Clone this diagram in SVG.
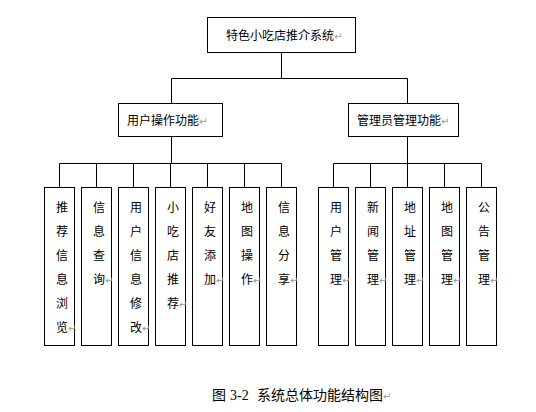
<svg xmlns="http://www.w3.org/2000/svg" width="536" height="412" viewBox="0 0 536 412">
<style>
.box{fill:#fff;stroke:#000;stroke-width:1}
.ln{fill:none;stroke:#000;stroke-width:1}
.t{font-family:"Noto Sans CJK SC","Noto Sans CJK JP",sans-serif;font-size:12px;fill:#000}
.r{font-family:"DejaVu Sans",sans-serif;font-size:10px;fill:#999}
.cap{font-family:"Noto Sans CJK SC",sans-serif;font-size:14px;fill:#000}
.num{font-family:"Liberation Serif",serif;font-size:14px;fill:#000}
</style>
<rect width="536" height="412" fill="#fff"/>
<g id="connectors">
<path class="ln" d="M281.5 53V78.5M171.5 78.5H407.5M171.5 78.5V103M407.5 78.5V103"/>
<path class="ln" d="M171.5 137V163.5M59.5 163.5H281.5M59.5 163.5V187M96.5 163.5V187M133.5 163.5V187M170.5 163.5V187M207.5 163.5V187M244.5 163.5V187M281.5 163.5V187"/>
<path class="ln" d="M407.5 137V163.5M333.5 163.5H481.5M333.5 163.5V187M370.5 163.5V187M407.5 163.5V187M444.5 163.5V187M481.5 163.5V187"/>
</g>
<g id="root">
<rect class="box" x="207.5" y="17.5" width="148" height="35"/>
<text class="t" x="226" y="39.5">特色小吃店推介系统<tspan class="r">↵</tspan></text>
</g>
<g id="user">
<rect class="box" x="118.5" y="103.5" width="104" height="33"/>
<text class="t" x="127" y="124.5">用户操作功能<tspan class="r">↵</tspan></text>
</g>
<g id="admin">
<rect class="box" x="348.5" y="103.5" width="110" height="33"/>
<text class="t" x="357" y="124.5">管理员管理功能<tspan class="r">↵</tspan></text>
</g>
<g id="n1">
<rect class="box" x="44.5" y="187.5" width="30" height="158"/>
<text class="t"><tspan x="56" y="212">推</tspan><tspan x="56" y="236">荐</tspan><tspan x="56" y="260">信</tspan><tspan x="56" y="284">息</tspan><tspan x="56" y="308">浏</tspan><tspan x="56" y="332">览</tspan><tspan class="r">↵</tspan></text>
</g>
<g id="n2">
<rect class="box" x="81.5" y="187.5" width="30" height="158"/>
<text class="t"><tspan x="93" y="212">信</tspan><tspan x="93" y="236">息</tspan><tspan x="93" y="260">查</tspan><tspan x="93" y="284">询</tspan><tspan class="r">↵</tspan></text>
</g>
<g id="n3">
<rect class="box" x="118.5" y="187.5" width="30" height="158"/>
<text class="t"><tspan x="130" y="212">用</tspan><tspan x="130" y="236">户</tspan><tspan x="130" y="260">信</tspan><tspan x="130" y="284">息</tspan><tspan x="130" y="308">修</tspan><tspan x="130" y="332">改</tspan><tspan class="r">↵</tspan></text>
</g>
<g id="n4">
<rect class="box" x="155.5" y="187.5" width="30" height="158"/>
<text class="t"><tspan x="167" y="212">小</tspan><tspan x="167" y="236">吃</tspan><tspan x="167" y="260">店</tspan><tspan x="167" y="284">推</tspan><tspan x="167" y="308">荐</tspan><tspan class="r">↵</tspan></text>
</g>
<g id="n5">
<rect class="box" x="192.5" y="187.5" width="30" height="158"/>
<text class="t"><tspan x="204" y="212">好</tspan><tspan x="204" y="236">友</tspan><tspan x="204" y="260">添</tspan><tspan x="204" y="284">加</tspan><tspan class="r">↵</tspan></text>
</g>
<g id="n6">
<rect class="box" x="229.5" y="187.5" width="30" height="158"/>
<text class="t"><tspan x="241" y="212">地</tspan><tspan x="241" y="236">图</tspan><tspan x="241" y="260">操</tspan><tspan x="241" y="284">作</tspan><tspan class="r">↵</tspan></text>
</g>
<g id="n7">
<rect class="box" x="266.5" y="187.5" width="30" height="158"/>
<text class="t"><tspan x="278" y="212">信</tspan><tspan x="278" y="236">息</tspan><tspan x="278" y="260">分</tspan><tspan x="278" y="284">享</tspan><tspan class="r">↵</tspan></text>
</g>
<g id="n8">
<rect class="box" x="318.5" y="187.5" width="30" height="158"/>
<text class="t"><tspan x="330" y="212">用</tspan><tspan x="330" y="236">户</tspan><tspan x="330" y="260">管</tspan><tspan x="330" y="284">理</tspan><tspan class="r">↵</tspan></text>
</g>
<g id="n9">
<rect class="box" x="355.5" y="187.5" width="30" height="158"/>
<text class="t"><tspan x="367" y="212">新</tspan><tspan x="367" y="236">闻</tspan><tspan x="367" y="260">管</tspan><tspan x="367" y="284">理</tspan><tspan class="r">↵</tspan></text>
</g>
<g id="n10">
<rect class="box" x="392.5" y="187.5" width="30" height="158"/>
<text class="t"><tspan x="404" y="212">地</tspan><tspan x="404" y="236">址</tspan><tspan x="404" y="260">管</tspan><tspan x="404" y="284">理</tspan><tspan class="r">↵</tspan></text>
</g>
<g id="n11">
<rect class="box" x="429.5" y="187.5" width="30" height="158"/>
<text class="t"><tspan x="441" y="212">地</tspan><tspan x="441" y="236">图</tspan><tspan x="441" y="260">管</tspan><tspan x="441" y="284">理</tspan><tspan class="r">↵</tspan></text>
</g>
<g id="n12">
<rect class="box" x="466.5" y="187.5" width="30" height="158"/>
<text class="t"><tspan x="478" y="212">公</tspan><tspan x="478" y="236">告</tspan><tspan x="478" y="260">管</tspan><tspan x="478" y="284">理</tspan><tspan class="r">↵</tspan></text>
</g>
<g id="caption">
<text class="cap" x="212" y="400">图<tspan class="num" x="230">3-2</tspan><tspan x="257">系统总体功能结构图</tspan><tspan class="r">↵</tspan></text>
</g>
</svg>
